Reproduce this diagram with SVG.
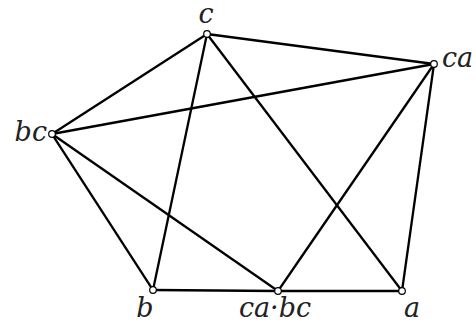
<svg xmlns="http://www.w3.org/2000/svg" width="476" height="327" viewBox="0 0 476 327">
<style>
.e{stroke:#000;stroke-width:2.3;fill:none}
.n{fill:#fff;stroke:#000;stroke-width:1.2}
.t{font-family:"DejaVu Serif",serif;font-style:italic;font-size:27px;fill:#222}
</style>
<rect width="476" height="327" fill="#fff"/>
<g id="connectors">
<line class="e" x1="207" y1="34" x2="434" y2="64"/>
<line class="e" x1="207" y1="34" x2="52" y2="134"/>
<line class="e" x1="207" y1="34" x2="153" y2="290"/>
<line class="e" x1="207" y1="34" x2="402" y2="291"/>
<line class="e" x1="52" y1="134" x2="434" y2="64"/>
<line class="e" x1="52" y1="134" x2="153" y2="290"/>
<line class="e" x1="52" y1="134" x2="278" y2="291"/>
<line class="e" x1="153" y1="290" x2="278" y2="291"/>
<line class="e" x1="278" y1="291" x2="402" y2="291"/>
<line class="e" x1="434" y1="64" x2="278" y2="291"/>
<line class="e" x1="434" y1="64" x2="402" y2="291"/>
</g>
<g id="c"><circle class="n" cx="207" cy="34" r="3.3"/><text class="t" x="206" y="23" text-anchor="middle">c</text></g>
<g id="ca"><circle class="n" cx="434" cy="64" r="3.3"/><text class="t" x="442" y="67">ca</text></g>
<g id="bc"><circle class="n" cx="52" cy="134" r="3.3"/><text class="t" x="47" y="141" text-anchor="end">bc</text></g>
<g id="b"><circle class="n" cx="153" cy="290" r="3.3"/><text class="t" x="145" y="317" text-anchor="middle">b</text></g>
<g id="cabc"><circle class="n" cx="278" cy="291" r="3.3"/><text class="t" x="275" y="317" text-anchor="middle">ca·bc</text></g>
<g id="a"><circle class="n" cx="402" cy="291" r="3.3"/><text class="t" x="412" y="317" text-anchor="middle">a</text></g>
</svg>
